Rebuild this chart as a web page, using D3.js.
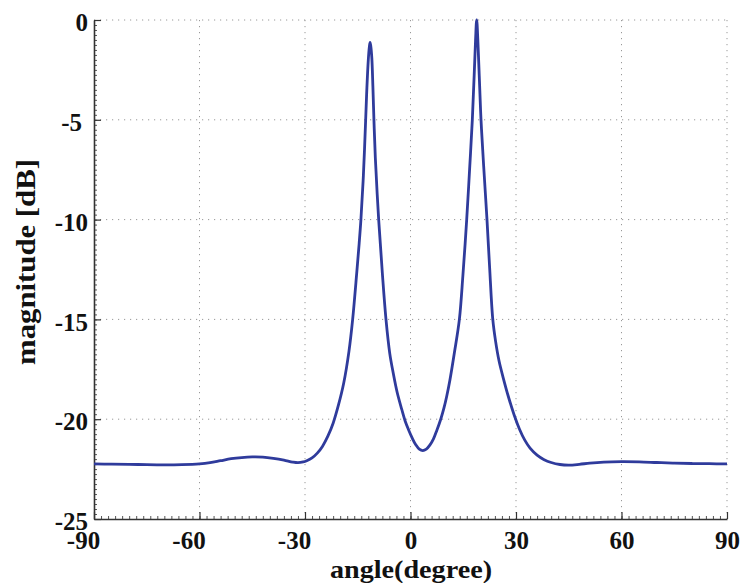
<!DOCTYPE html>
<html>
<head>
<meta charset="utf-8">
<script src="https://cdn.jsdelivr.net/npm/d3@7"></script>
<style>
  html, body { margin: 0; padding: 0; background: #fff; }
  svg { display: block; }
  text { font-family: "Liberation Serif", "Times New Roman", serif; font-weight: bold; fill: #111; }
</style>
</head>
<body>
<svg id="chart" width="746" height="583"></svg>
<script>
// ---- data ----
const angles = [-90, -85, -80, -75, -70, -65, -60, -57, -54, -51, -48, -45, -42, -39, -36, -33.5, -32, -30.5, -29.5,
  -28, -26.5, -25, -23.5, -22, -20.5, -19, -17.5, -16.45, -15.3, -14.6, -14.1, -13.4, -12.75, -12.4, -12.0, -11.7, -11.5,
  -11.3, -11.0, -10.7, -10.4, -10.0, -9.05, -8.0, -6.97, -5.9, -4.9, -3.8, -2.5, -1.5, -0.5, 0.5, 1.5, 2.5, 3.5, 4.5,
  5.5, 6.5, 7.5, 8.6, 9.5, 10.3, 11.2, 12.5, 13.9, 14.9, 15.98, 16.8, 17.58, 18.1, 18.5, 18.82, 19.15, 19.55, 20.05,
  20.8, 21.75, 22.5, 23.4, 24.2, 25.2, 26.4, 27.8, 29.5, 31, 32.5, 34, 36, 38, 40, 42.5, 45, 48, 51, 55, 60, 65, 70, 75,
  80, 85, 90];
const magnitudes = [-22.24, -22.25, -22.26, -22.28, -22.29, -22.28, -22.24, -22.18, -22.08, -21.98, -21.92, -21.89, -21.9, -21.96, -22.05, -22.15, -22.18, -22.14, -22.08,
  -21.94, -21.7, -21.35, -20.85, -20.2, -19.3, -18.2, -16.6, -15.0, -12.7, -11.2, -10.0, -7.8, -5.0, -3.4, -2.0, -1.35, -1.12,
  -1.3, -1.9, -3.3, -5.0, -6.9, -10.0, -12.7, -15.0, -16.7, -17.7, -18.65, -19.5, -20.1, -20.55, -20.95, -21.28, -21.5, -21.57, -21.5,
  -21.3, -21.0, -20.55, -20.0, -19.45, -18.85, -18.05, -16.65, -15.0, -12.8, -10.0, -7.5, -5.0, -2.8, -1.0, 0, -1.0, -2.8, -5.0,
  -7.3, -10.0, -12.4, -15.0, -16.1, -17.1, -17.95, -18.85, -19.8, -20.5, -21.05, -21.45, -21.8, -22.03, -22.17, -22.27, -22.3, -22.26, -22.2, -22.15, -22.13, -22.14, -22.17, -22.2,
  -22.22, -22.23, -22.24];
const xTicks = [-90, -60, -30, 0, 30, 60, 90];
const yTicks = [0, -5, -10, -15, -20, -25];
const xLabel = "angle(degree)";
const yLabel = "magnitude [dB]";

// ---- layout ----
const svg = d3.select("#chart");
const mLeft = 94, mRight = 727, mTop = 20, mBottom = 519;
const x = d3.scaleLinear().domain([-90, 90]).range([mLeft, mRight]);
const y = d3.scaleLinear().domain([-25, 0]).range([mBottom, mTop]);

// grid
const grid = svg.append("g").attr("stroke", "#999").attr("stroke-width", 1).attr("stroke-dasharray", "1.2,4.8");
grid.selectAll("line.vx").data(xTicks.slice(1)).enter().append("line")
  .attr("x1", d => x(d)).attr("x2", d => x(d)).attr("y1", mTop).attr("y2", mBottom);
grid.selectAll("line.hy").data(yTicks.slice(0, -1)).enter().append("line")
  .attr("y1", d => y(d)).attr("y2", d => y(d)).attr("x1", mLeft).attr("x2", mRight);

// minor ticks
const xMinor = d3.range(-90, 90.001, 2);
const yMinor = d3.range(-25, 0.001, 0.25);
svg.append("g").attr("transform", `translate(0,${mBottom})`)
  .call(d3.axisBottom(x).tickValues(xMinor).tickSize(-3).tickFormat(""))
  .call(g => g.select(".domain").remove())
  .selectAll("line").attr("stroke", "#555");
svg.append("g").attr("transform", `translate(${mLeft},0)`)
  .call(d3.axisLeft(y).tickValues(yMinor).tickSize(-3).tickFormat(""))
  .call(g => g.select(".domain").remove())
  .selectAll("line").attr("stroke", "#555");

// major axes
const fmt = d => String(d);
const xAxis = svg.append("g").attr("transform", `translate(0,${mBottom})`)
  .call(d3.axisBottom(x).tickValues(xTicks).tickSize(-7).tickSizeOuter(0).tickPadding(12).tickFormat(fmt));
const yAxis = svg.append("g").attr("transform", `translate(${mLeft},0)`)
  .call(d3.axisLeft(y).tickValues(yTicks).tickSize(-7).tickSizeOuter(0).tickPadding(6).tickFormat(fmt));
[xAxis, yAxis].forEach(a => {
  a.select(".domain").attr("stroke", "#333").attr("stroke-width", 1.6);
  a.selectAll(".tick line").attr("stroke", "#333").attr("stroke-width", 1.2);
  a.selectAll("text").attr("font-size", 25).attr("font-family", "Liberation Serif").attr("font-weight", "bold").attr("fill", "#111");
});
xAxis.selectAll("text").attr("dy", "0.71em").attr("dx", d => d < 0 ? -11 : 0);
yAxis.selectAll("text").attr("dy", "0.43em").attr("dx", d => d === -5 ? -6 : 0);

// curve
const data = angles.map((a, i) => ({ a, m: magnitudes[i] }));
svg.append("path").datum(data)
  .attr("fill", "none").attr("stroke", "#2f3b9c").attr("stroke-width", 2.8).attr("stroke-linejoin", "round")
  .attr("d", d3.line().x(d => x(d.a)).y(d => y(d.m)).curve(d3.curveCatmullRom.alpha(0.5)));

// axis labels
svg.append("text").attr("x", 411).attr("y", 577.5).attr("text-anchor", "middle")
  .attr("font-size", 25).attr("textLength", 162).attr("lengthAdjust", "spacingAndGlyphs").text(xLabel);
svg.append("text").attr("transform", `translate(35,262) rotate(-90)`).attr("text-anchor", "middle")
  .attr("font-size", 27).attr("textLength", 206).attr("lengthAdjust", "spacingAndGlyphs").text(yLabel);
</script>
</body>
</html>
